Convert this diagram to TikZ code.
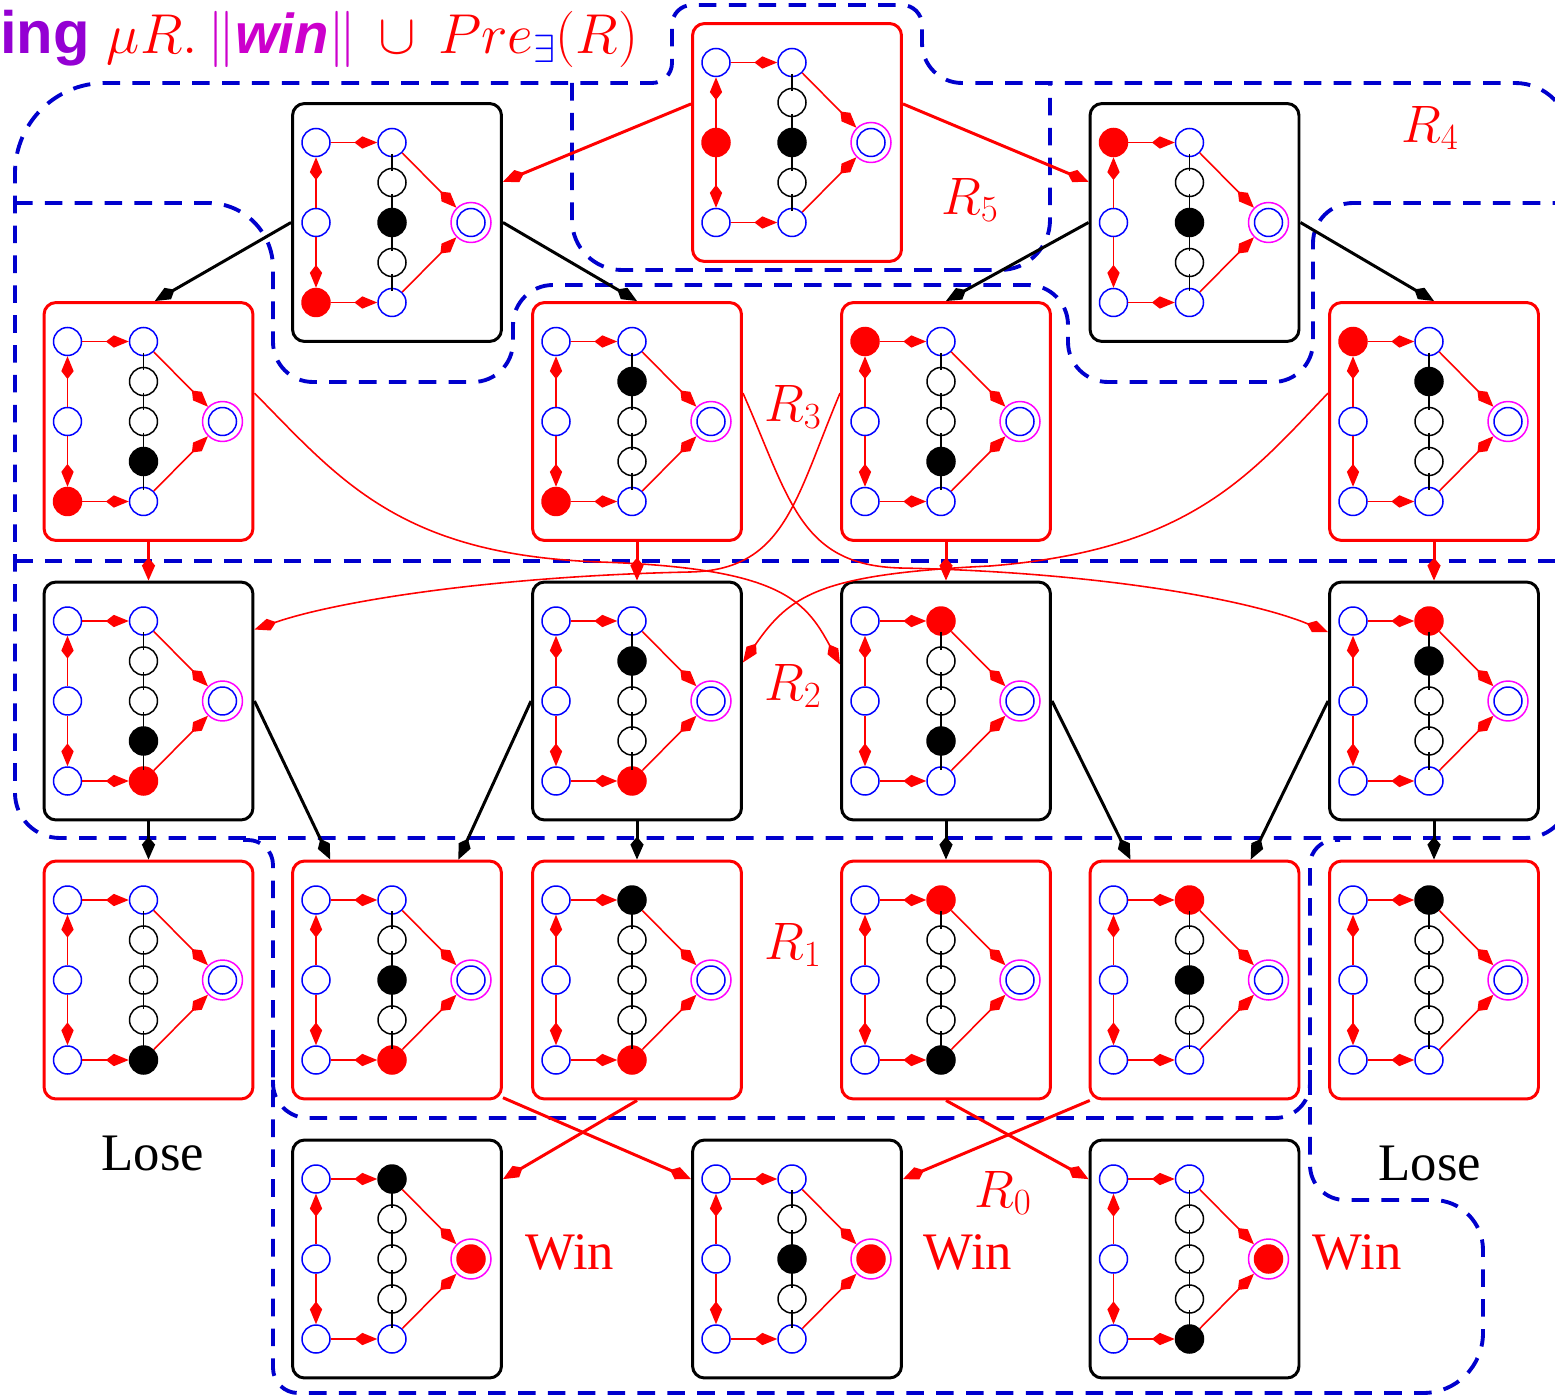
\RequirePackage{fix-cm}
\documentclass[tikz,border=0pt]{standalone}
\usepackage{fontspec}
\newfontfamily\labelfont{Liberation Serif}
\newfontfamily\headfont{Liberation Sans}
\usetikzlibrary{arrows.meta,calc}
\definecolor{regionblue}{RGB}{0,0,205}
\definecolor{ringmagenta}{RGB}{255,0,255}
\definecolor{headviolet}{RGB}{148,0,211}
\definecolor{winmagenta}{RGB}{204,0,204}
\tikzset{
  gamebox/.style={rectangle, rounded corners=0.24cm, line width=1.7pt, minimum width=4.18cm, minimum height=4.76cm},
  spot/.style={circle, draw=blue, line width=0.85pt, minimum size=0.56cm, inner sep=0pt},
  midspot/.style={spot, draw=black},
  goalring/.style={circle, draw=ringmagenta, line width=0.85pt, minimum size=0.8cm, inner sep=0pt},
  redstate/.style={draw=red, fill=red},
  blackstate/.style={draw=black, fill=black},
  inmove/.style={red, line width=0.9pt, -{Kite[length=13pt,width=7pt,inset=4.5pt]}},
  rail/.style={black, line width=0.9pt, shorten <=-2pt, shorten >=-2pt},
  blackmove/.style={black, line width=1.7pt, -{Kite[length=13pt,width=7.5pt,inset=4.5pt]}},
  redmove/.style={red, line width=1.7pt, -{Kite[length=13pt,width=7.5pt,inset=4.5pt]}},
  crossmove/.style={red, line width=0.9pt, -{Kite[length=13pt,width=7pt,inset=4.5pt]}},
  regionline/.style={regionblue, line width=2.2pt, dash pattern=on 10pt off 7pt},
  rlabel/.style={red, font=\fontsize{30}{36}\selectfont},
  outcome/.style={font=\labelfont\fontsize{30}{36}\selectfont}
}

% one game position: name, x, y, frame colour, filled spots
\newcommand{\board}[5]{%
  \begin{scope}[shift={(#2,#3)}, l1/.style={}, l2/.style={}, l3/.style={},
      m1/.style={}, m2/.style={}, m3/.style={}, m4/.style={}, m5/.style={}, ti/.style={}, #5]
    \node[gamebox, draw=#4] (#1) at (0,0) {};
    \node[spot, l1] (#1-l1) at (-81,-80) {};
    \node[spot, l2] (#1-l2) at (-81,0) {};
    \node[spot, l3] (#1-l3) at (-81,80) {};
    \node[spot, m1] (#1-m1) at (-5,-80) {};
    \node[midspot, m2] (#1-m2) at (-5,-40) {};
    \node[midspot, m3] (#1-m3) at (-5,0) {};
    \node[midspot, m4] (#1-m4) at (-5,40) {};
    \node[spot, m5] (#1-m5) at (-5,80) {};
    \node[spot, ti] (#1-ti) at (74,0) {};
    \node[goalring] (#1-tg) at (74,0) {};
    \foreach \i/\j in {1/2,2/3,3/4,4/5}
      \draw[rail] (#1-m\i) -- (#1-m\j);
    \draw[inmove] (#1-l2) -- (#1-l1);
    \draw[inmove] (#1-l2) -- (#1-l3);
    \draw[inmove] (#1-l1) -- (#1-m1);
    \draw[inmove] (#1-l3) -- (#1-m5);
    \draw[inmove] (#1-m1) -- (#1-tg);
    \draw[inmove] (#1-m5) -- (#1-tg);
  \end{scope}
}

\begin{document}
\begin{tikzpicture}[x=0.02cm, y=-0.02cm]
  \useasboundingbox (0,0) rectangle (1555,1398);

  % regions
  \draw[regionline] (1570,500) [rounded corners=0.9cm] -- (1570,838) -- (15,838)
    [rounded corners=1.8cm] -- (15,83) [rounded corners=0.4cm] -- (672,83) -- (672,5) -- (922,5)
    [rounded corners=0.8cm] -- (922,83) [rounded corners=1.1cm] -- (1570,83) -- (1570,500);
  \draw[regionline] (15,203) [rounded corners=1.3cm] -- (273,203) [rounded corners=0.8cm] -- (273,382)
    -- (513,382) -- (513,285) -- (1068,285) -- (1068,382) -- (1313,382) -- (1313,203) -- (1570,203);
  \draw[regionline, rounded corners=1cm] (572,83) -- (572,270) -- (1050,270) -- (1050,83);
  \draw[regionline] (15,561) -- (1570,561);
  \draw[regionline, rounded corners=0.5cm] (243,840) -- (273,840) -- (273,1393)
    [rounded corners=1.2cm] -- (1483,1393) [rounded corners=1cm] -- (1483,1200)
    [rounded corners=0.7cm] -- (1310,1200) [rounded corners=0.5cm] -- (1310,840) -- (1340,840);
  \draw[regionline, rounded corners=0.7cm] (273,1050) -- (273,1118) -- (1310,1118) -- (1310,1050);

  % positions
  \board{top}{797}{142.5}{red}{l2/.style=redstate, m3/.style=blackstate}
  \board{u1}{397}{222.5}{black}{l3/.style=redstate, m3/.style=blackstate}
  \board{u2}{1194.5}{222.5}{black}{l1/.style=redstate, m3/.style=blackstate}
  \board{a1}{148.5}{421.5}{red}{l3/.style=redstate, m4/.style=blackstate}
  \board{a2}{637}{421.5}{red}{l3/.style=redstate, m2/.style=blackstate}
  \board{a3}{946}{421.5}{red}{l1/.style=redstate, m4/.style=blackstate}
  \board{a4}{1434}{421.5}{red}{l1/.style=redstate, m2/.style=blackstate}
  \board{b1}{148.5}{701}{black}{m4/.style=blackstate, m5/.style=redstate}
  \board{b2}{637}{701}{black}{m2/.style=blackstate, m5/.style=redstate}
  \board{b3}{946}{701}{black}{m1/.style=redstate, m4/.style=blackstate}
  \board{b4}{1434}{701}{black}{m1/.style=redstate, m2/.style=blackstate}
  \board{c1}{148.5}{980}{red}{m5/.style=blackstate}
  \board{c2}{397}{980}{red}{m3/.style=blackstate, m5/.style=redstate}
  \board{c3}{637}{980}{red}{m1/.style=blackstate, m5/.style=redstate}
  \board{c4}{946}{980}{red}{m1/.style=redstate, m5/.style=blackstate}
  \board{c5}{1194.5}{980}{red}{m1/.style=redstate, m3/.style=blackstate}
  \board{c6}{1434}{980}{red}{m1/.style=blackstate}
  \board{d1}{397}{1259}{black}{m1/.style=blackstate, ti/.style=redstate}
  \board{d2}{797}{1259}{black}{m3/.style=blackstate, ti/.style=redstate}
  \board{d3}{1194.5}{1259}{black}{m5/.style=blackstate, ti/.style=redstate}

  % moves
  \draw[redmove] (top.160) -- (u1.21);
  \draw[redmove] (top.20) -- (u2.159);
  \draw[blackmove] (u1.west) -- (a1.87);
  \draw[blackmove] (u1.east) -- (a2.north);
  \draw[blackmove] (u2.west) -- (a3.north);
  \draw[blackmove] (u2.east) -- (a4.north);
  \foreach \i in {1,...,4}
    \draw[redmove] (a\i.south) -- (b\i.north);
  \draw[crossmove] (a1.15) .. controls (340,480) and (400,555) .. (600,562)
    .. controls (780,568) and (805,600) .. (b3.161);
  \draw[crossmove] (a2.15) .. controls (790,500) and (800,565) .. (900,568)
    .. controls (1100,572) and (1250,600) .. (b4.147);
  \draw[crossmove] (a3.165) .. controls (795,500) and (785,570) .. (690,572)
    .. controls (500,576) and (340,600) .. (b1.34);
  \draw[crossmove] (a4.165) .. controls (1250,475) and (1190,550) .. (990,566)
    .. controls (820,574) and (790,595) .. (b2.20);
  \draw[blackmove] (b1.south) -- (c1.north);
  \draw[blackmove] (b1.east) -- (c2.119);
  \draw[blackmove] (b2.west) -- (c2.63);
  \draw[blackmove] (b2.south) -- (c3.north);
  \draw[blackmove] (b3.south) -- (c4.north);
  \draw[blackmove] (b3.east) -- (c5.118);
  \draw[blackmove] (b4.west) -- (c5.65);
  \draw[blackmove] (b4.south) -- (c6.north);
  \draw[redmove] (c2.-48) -- (d2.143);
  \draw[redmove] (c3.south) -- (d1.37);
  \draw[redmove] (c4.south) -- (d3.143);
  \draw[redmove] (c5.-131) -- (d2.37);

  % labels
  \node[anchor=base west, inner sep=0pt, font=\fontsize{32}{38}\selectfont] (title) at (0,54)
    {{\color{headviolet}\headfont\bfseries\fontsize{34}{40}\selectfont ing}\ $\color{red}\mu R.\,{\color{winmagenta}\|\mbox{\headfont\bfseries\itshape win}\|}\,\cup\, Pre_{\color{blue}\exists}(R)$};
  \node[rlabel] (r5) at (970,200) {$R_5$};
  \node[rlabel] (r4) at (1430,128) {$R_4$};
  \node[rlabel] (r3) at (793,407) {$R_3$};
  \node[rlabel] (r2) at (793,686) {$R_2$};
  \node[rlabel] (r1) at (793,945) {$R_1$};
  \node[rlabel] (r0) at (1003,1193) {$R_0$};
  \node[outcome] (lose1) at (153,1153) {Lose};
  \node[outcome] (lose2) at (1430,1163) {Lose};
  \node[outcome, red] (win1) at (570,1252) {Win};
  \node[outcome, red] (win2) at (968,1252) {Win};
  \node[outcome, red] (win3) at (1357,1252) {Win};
\end{tikzpicture}
\end{document}
